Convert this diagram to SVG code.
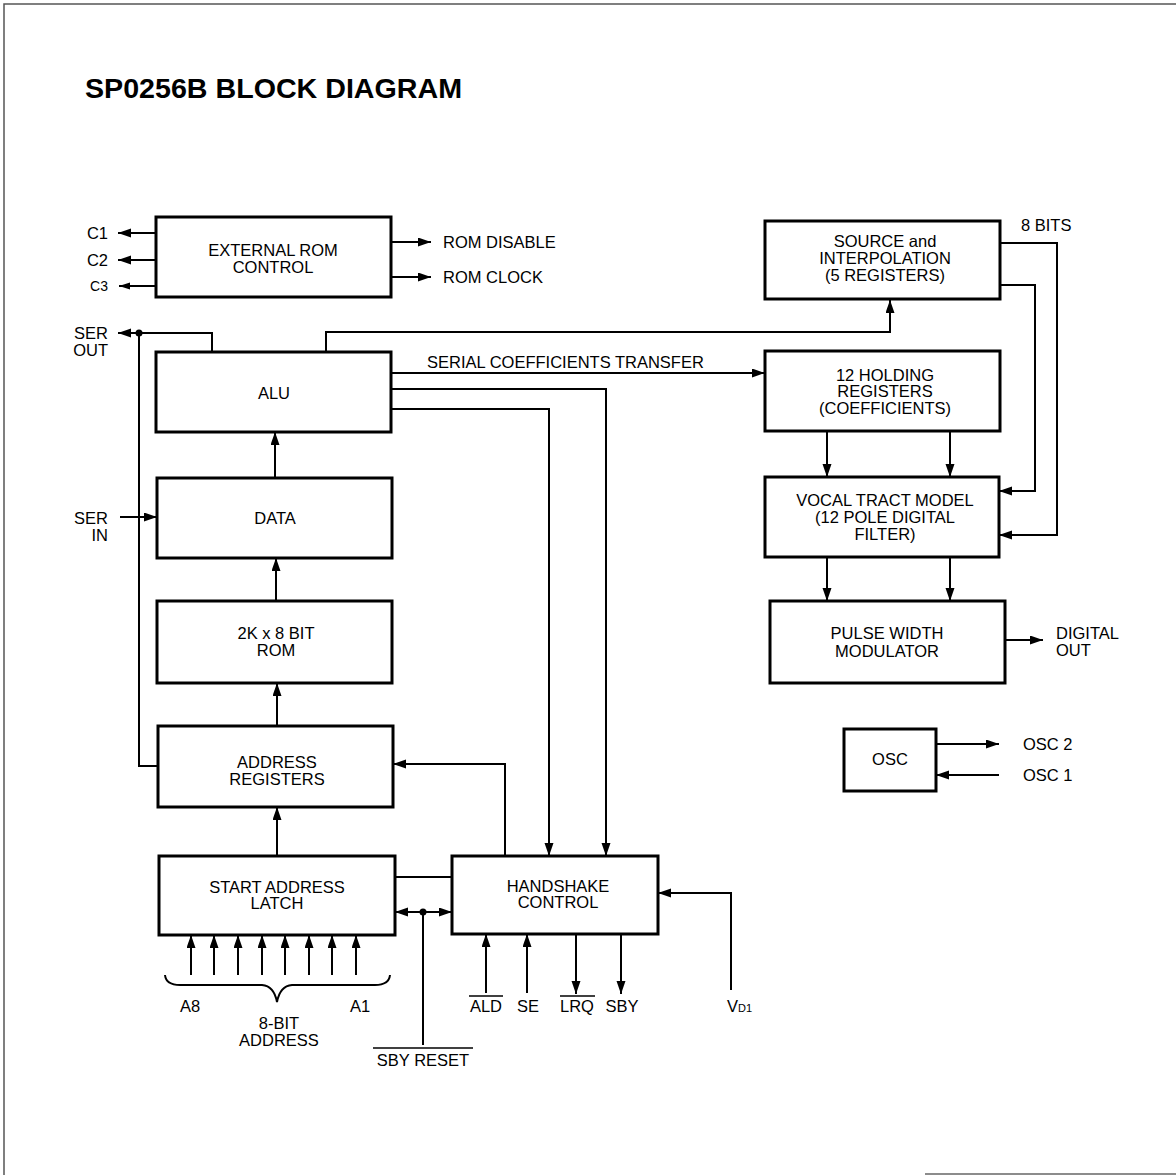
<svg xmlns="http://www.w3.org/2000/svg" width="1176" height="1175" viewBox="0 0 1176 1175">
<style>
.box{fill:#fff;stroke:#000;stroke-width:3}
.c{fill:none;stroke:#000;stroke-width:2}
.t{font-family:"Liberation Sans",Arial,sans-serif;font-size:16.5px;fill:#000}
.m{text-anchor:middle}
.e{text-anchor:end}
.title{font-family:"Liberation Sans",Arial,sans-serif;font-size:27px;font-weight:bold;fill:#000}
</style>
<defs>
<marker id="a" markerUnits="userSpaceOnUse" markerWidth="14" markerHeight="10" refX="13" refY="4.5" orient="auto"><path d="M0,0 L13,4.5 L0,9 z" fill="#000"/></marker>
<marker id="s" markerUnits="userSpaceOnUse" markerWidth="12" markerHeight="8" refX="11" refY="3.5" orient="auto"><path d="M0,0 L11,3.5 L0,7 z" fill="#000"/></marker>
</defs>
<rect width="1176" height="1175" fill="#fff"/>
<path d="M1176,4 H4 V1175" fill="none" stroke="#555" stroke-width="1.5"/>
<path d="M925,1174 H1176" fill="none" stroke="#666" stroke-width="1.5"/>
<text class="title" x="85" y="98" textLength="377" lengthAdjust="spacingAndGlyphs">SP0256B BLOCK DIAGRAM</text>

<g id="connectors">
<path class="c" d="M156,233 H118" marker-end="url(#a)"/>
<path class="c" d="M156,260 H118" marker-end="url(#a)"/>
<path class="c" d="M156,286 H119" stroke-width="1.5" marker-end="url(#s)"/>
<path class="c" d="M391,242 H431" marker-end="url(#a)"/>
<path class="c" d="M391,277 H431" marker-end="url(#a)"/>
<path class="c" d="M212,352 V333 H118" marker-end="url(#a)"/>
<path class="c" d="M139,333 V766 H158"/>
<circle cx="139" cy="333" r="3.5" fill="#000"/>
<path class="c" d="M326,352 V332 H890 V300" marker-end="url(#a)"/>
<path class="c" d="M391,373 H765" marker-end="url(#a)"/>
<path class="c" d="M391,389 H606 V856" marker-end="url(#a)"/>
<path class="c" d="M391,409 H549 V856" marker-end="url(#a)"/>
<path class="c" d="M275,478 V432" marker-end="url(#a)"/>
<path class="c" d="M276,601 V558" marker-end="url(#a)"/>
<path class="c" d="M277,726 V683" marker-end="url(#a)"/>
<path class="c" d="M277,856 V807" marker-end="url(#a)"/>
<path class="c" d="M120,517 H157" marker-end="url(#a)"/>
<path class="c" d="M505,856 V764 H393" marker-end="url(#a)"/>
<path class="c" d="M395,877 H452"/>
<path class="c" d="M423,912 H395" marker-end="url(#a)"/>
<path class="c" d="M423,912 H452" marker-end="url(#a)"/>
<circle cx="423" cy="912" r="3.5" fill="#000"/>
<path class="c" d="M423,912 V1045"/>
<path class="c" d="M191,975 V935" marker-end="url(#a)"/>
<path class="c" d="M214,975 V935" marker-end="url(#a)"/>
<path class="c" d="M238,975 V935" marker-end="url(#a)"/>
<path class="c" d="M262,975 V935" marker-end="url(#a)"/>
<path class="c" d="M285,975 V935" marker-end="url(#a)"/>
<path class="c" d="M309,975 V935" marker-end="url(#a)"/>
<path class="c" d="M332,975 V935" marker-end="url(#a)"/>
<path class="c" d="M356,975 V935" marker-end="url(#a)"/>
<path class="c" d="M165,975 Q166,985 180,985 H262 Q274,986 277,1002 Q280,986 292,985 H375 Q389,985 390,975"/>
<path class="c" d="M486,993 V934" marker-end="url(#a)"/>
<path class="c" d="M527,993 V934" marker-end="url(#a)"/>
<path class="c" d="M576,934 V994" marker-end="url(#a)"/>
<path class="c" d="M621,934 V994" marker-end="url(#a)"/>
<path class="c" d="M731,990 V893 H658" marker-end="url(#a)"/>
<path class="c" d="M1000,243 H1057 V535 H999" marker-end="url(#a)"/>
<path class="c" d="M1000,285 H1035 V491 H999" marker-end="url(#a)"/>
<path class="c" d="M827,431 V477" marker-end="url(#a)"/>
<path class="c" d="M950,431 V477" marker-end="url(#a)"/>
<path class="c" d="M827,557 V601" marker-end="url(#a)"/>
<path class="c" d="M950,557 V601" marker-end="url(#a)"/>
<path class="c" d="M1005,640 H1043" marker-end="url(#a)"/>
<path class="c" d="M936,744 H999" marker-end="url(#a)"/>
<path class="c" d="M999,775 H936" marker-end="url(#a)"/>
</g>

<g id="extrom"><rect class="box" x="156" y="217" width="235" height="80"/>
<text class="t m" x="273" y="256">EXTERNAL ROM</text><text class="t m" x="273" y="273">CONTROL</text></g>
<g id="alu"><rect class="box" x="156" y="352" width="235" height="80"/>
<text class="t m" x="274" y="399">ALU</text></g>
<g id="data"><rect class="box" x="157" y="478" width="235" height="80"/>
<text class="t m" x="275" y="524">DATA</text></g>
<g id="rom"><rect class="box" x="157" y="601" width="235" height="82"/>
<text class="t m" x="276" y="639">2K x 8 BIT</text><text class="t m" x="276" y="656">ROM</text></g>
<g id="addr"><rect class="box" x="158" y="726" width="235" height="81"/>
<text class="t m" x="277" y="768">ADDRESS</text><text class="t m" x="277" y="785">REGISTERS</text></g>
<g id="latch"><rect class="box" x="159" y="856" width="236" height="79"/>
<text class="t m" x="277" y="893">START ADDRESS</text><text class="t m" x="277" y="909">LATCH</text></g>
<g id="handshake"><rect class="box" x="452" y="856" width="206" height="78"/>
<text class="t m" x="558" y="892">HANDSHAKE</text><text class="t m" x="558" y="908">CONTROL</text></g>
<g id="source"><rect class="box" x="765" y="221" width="235" height="78"/>
<text class="t m" x="885" y="247">SOURCE and</text><text class="t m" x="885" y="264">INTERPOLATION</text><text class="t m" x="885" y="281">(5 REGISTERS)</text></g>
<g id="holding"><rect class="box" x="765" y="351" width="235" height="80"/>
<text class="t m" x="885" y="381">12 HOLDING</text><text class="t m" x="885" y="397">REGISTERS</text><text class="t m" x="885" y="414">(COEFFICIENTS)</text></g>
<g id="vocal"><rect class="box" x="765" y="477" width="234" height="80"/>
<text class="t m" x="885" y="506">VOCAL TRACT MODEL</text><text class="t m" x="885" y="523">(12 POLE DIGITAL</text><text class="t m" x="885" y="540">FILTER)</text></g>
<g id="pwm"><rect class="box" x="770" y="601" width="235" height="82"/>
<text class="t m" x="887" y="639">PULSE WIDTH</text><text class="t m" x="887" y="657">MODULATOR</text></g>
<g id="osc"><rect class="box" x="844" y="729" width="92" height="62"/>
<text class="t m" x="890" y="765">OSC</text></g>

<g id="labels">
<text class="t e" x="108" y="239">C1</text>
<text class="t e" x="108" y="266">C2</text>
<text class="t e" x="108" y="291" style="font-size:14px">C3</text>
<text class="t" x="443" y="248">ROM DISABLE</text>
<text class="t" x="443" y="283">ROM CLOCK</text>
<text class="t e" x="108" y="339">SER</text>
<text class="t e" x="108" y="356">OUT</text>
<text class="t e" x="108" y="524">SER</text>
<text class="t e" x="108" y="541">IN</text>
<text class="t" x="427" y="368">SERIAL COEFFICIENTS TRANSFER</text>
<text class="t" x="1021" y="231">8 BITS</text>
<text class="t" x="1056" y="639">DIGITAL</text>
<text class="t" x="1056" y="656">OUT</text>
<text class="t" x="1023" y="750">OSC 2</text>
<text class="t" x="1023" y="781">OSC 1</text>
<text class="t m" x="190" y="1012">A8</text>
<text class="t m" x="360" y="1012">A1</text>
<text class="t m" x="279" y="1029">8-BIT</text>
<text class="t m" x="279" y="1046">ADDRESS</text>
<text class="t m" x="423" y="1066">SBY RESET</text>
<path d="M373,1048 H473" stroke="#000" stroke-width="1.5"/>
<text class="t m" x="486" y="1012">ALD</text>
<path d="M469,996 H503" stroke="#000" stroke-width="1.5"/>
<text class="t m" x="528" y="1012">SE</text>
<text class="t m" x="577" y="1012">LRQ</text>
<path d="M560,996 H595" stroke="#000" stroke-width="1.5"/>
<text class="t m" x="622" y="1012">SBY</text>
<text class="t" x="727" y="1012">V<tspan style="font-size:11px">D1</tspan></text>
</g>
</svg>
